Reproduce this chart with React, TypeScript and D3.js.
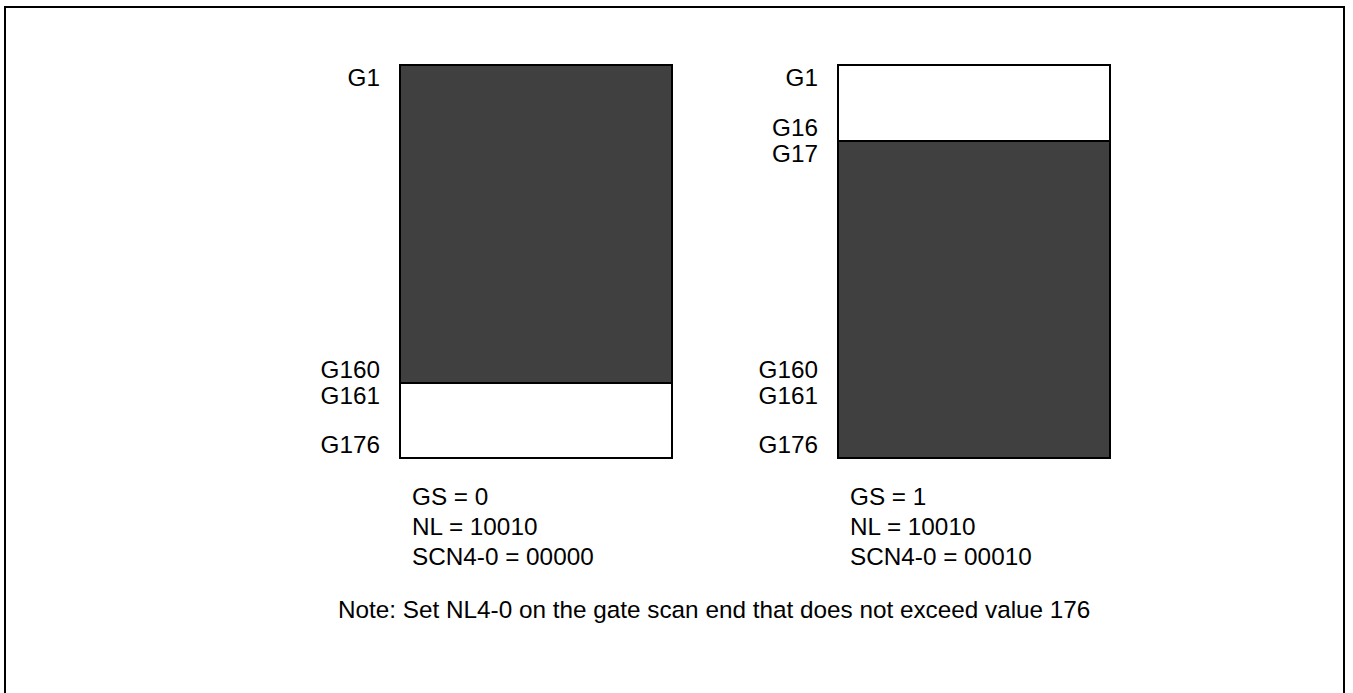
import React from "react";
import * as d3 from "d3";

// Gate scan panels
const panelIds = ["gs0", "gs1"];
const gateDomain = [0, 16, 160, 176];
// segments: [startGate, endGate, filled]
const leftSegments: [number, number, boolean][] = [
  [1, 160, true],
  [161, 176, false],
];
const rightSegments: [number, number, boolean][] = [
  [1, 16, false],
  [17, 176, true],
];
const leftStartLabels = ["G1", "G161"];
const leftEndLabels = ["G160", "G176"];
const rightStartLabels = ["G1", "G17", "G161"];
const rightEndLabels = ["G16", "G160", "G176"];
const leftStartGates = [1, 161];
const leftEndGates = [160, 176];
const rightStartGates = [1, 17, 161];
const rightEndGates = [16, 160, 176];
const leftNotes = ["GS = 0", "NL = 10010", "SCN4-0 = 00000"];
const rightNotes = ["GS = 1", "NL = 10010", "SCN4-0 = 00010"];
const footNote = "Note: Set NL4-0 on the gate scan end that does not exceed value 176";

const W = 1353;
const H = 693;
const FONT = "'Liberation Sans', Arial, sans-serif";
const FS = 24.3;
const DARK = "#404040";

export default function App() {
  const x = d3.scaleBand<string>().domain(panelIds).range([400, 1110]).paddingInner(166 / 438).paddingOuter(0);
  const y = d3.scaleLinear().domain(gateDomain).range([65, 141, 383, 458]);

  const panels = [
    { id: "gs0", segs: leftSegments, sl: leftStartLabels, sg: leftStartGates, el: leftEndLabels, eg: leftEndGates, notes: leftNotes },
    { id: "gs1", segs: rightSegments, sl: rightStartLabels, sg: rightStartGates, el: rightEndLabels, eg: rightEndGates, notes: rightNotes },
  ];

  return (
    <svg width={W} height={H} style={{ position: "absolute", left: 0, top: 0, background: "#fff" }} fontFamily={FONT}>
      <rect x={5} y={7} width={1339} height={H + 20} fill="none" stroke="#000" strokeWidth={2} />
      {panels.map((p) => {
        const x0 = x(p.id)!;
        const bw = x.bandwidth();
        return (
          <g key={p.id}>
            {p.segs.map(([s, e, f], i) => (
              <rect key={i} x={x0} y={y(s - 1)} width={bw} height={y(e) - y(s - 1)} fill={f ? DARK : "#fff"} stroke="#000" strokeWidth={2} />
            ))}
            {p.sl.map((t, i) => (
              <text key={"s" + i} x={x0 - 20} y={y(p.sg[i] - 1) + 20.5} textAnchor="end" fontSize={FS} fill="#000">{t}</text>
            ))}
            {p.el.map((t, i) => (
              <text key={"e" + i} x={x0 - 20} y={y(p.eg[i]) - 5} textAnchor="end" fontSize={FS} fill="#000">{t}</text>
            ))}
            {p.notes.map((t, i) => (
              <text key={"n" + i} x={x0 + 12} y={y(176) + 47 + i * 30} fontSize={FS} fill="#000">{t}</text>
            ))}
          </g>
        );
      })}
      <text x={338} y={618} fontSize={FS} fill="#000">{footNote}</text>
    </svg>
  );
}
